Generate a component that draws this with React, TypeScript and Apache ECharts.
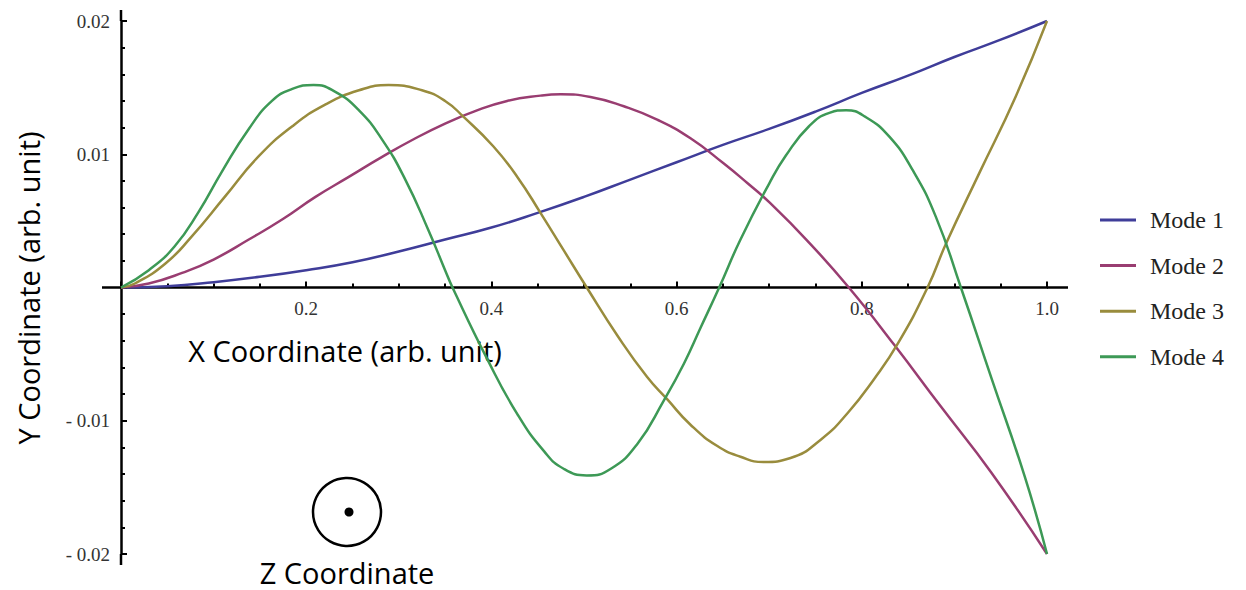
import React, { useEffect, useRef } from "react";
import * as echarts from "echarts";

// Beam mode shapes: [x, y] pairs along the beam (arb. units)
const mode1: [number, number][] = [
  [0, 0], [0.05, 0.0001], [0.1, 0.0004], [0.15, 0.0008], [0.2, 0.0013],
  [0.25, 0.0019], [0.3, 0.0027], [0.35, 0.0036], [0.4, 0.0045], [0.45, 0.0056],
  [0.5, 0.0068], [0.55, 0.0081], [0.6, 0.0094], [0.65, 0.0107], [0.7, 0.0119],
  [0.75, 0.0132], [0.8, 0.0146], [0.85, 0.0159], [0.9, 0.0173], [0.95, 0.0186],
  [1.0, 0.02],
];

const mode2: [number, number][] = [
  [0, 0], [0.03, 0.0003], [0.066, 0.0011], [0.1, 0.0021], [0.138, 0.0036],
  [0.174, 0.0051], [0.21, 0.0068], [0.246, 0.0083], [0.282, 0.0098], [0.318, 0.0112],
  [0.35, 0.0123], [0.381, 0.0132], [0.417, 0.014], [0.453, 0.0144], [0.475, 0.0145],
  [0.507, 0.0143], [0.543, 0.0136], [0.579, 0.0126], [0.615, 0.0112], [0.651, 0.0093],
  [0.677, 0.0078], [0.7, 0.0064], [0.74, 0.0036], [0.786, 0], [0.835, -0.0043],
  [0.885, -0.0089], [0.94, -0.0139], [1.0, -0.02],
];

const mode3: [number, number][] = [
  [0, 0], [0.015, 0.0003], [0.048, 0.0018], [0.076, 0.0038], [0.112, 0.0068],
  [0.148, 0.0098], [0.185, 0.0121], [0.22, 0.0137], [0.257, 0.0148], [0.289, 0.0152],
  [0.325, 0.0148], [0.35, 0.014], [0.37, 0.0128], [0.402, 0.0106], [0.428, 0.0083],
  [0.453, 0.0056], [0.478, 0.0028], [0.503, 0], [0.536, -0.0036], [0.568, -0.0067],
  [0.59, -0.0084], [0.615, -0.0103], [0.644, -0.0119], [0.669, -0.0127], [0.694, -0.0131],
  [0.723, -0.0128], [0.756, -0.0114], [0.785, -0.0094], [0.813, -0.0069], [0.839, -0.0042],
  [0.871, 0], [0.891, 0.0033], [0.927, 0.0086], [0.966, 0.0143], [1.0, 0.02],
];

const mode4: [number, number][] = [
  [0, 0], [0.03, 0.0013], [0.058, 0.0031], [0.084, 0.0057], [0.109, 0.0087],
  [0.138, 0.0119], [0.163, 0.014], [0.185, 0.0149], [0.208, 0.0152], [0.231, 0.0147],
  [0.257, 0.0133], [0.282, 0.0111], [0.307, 0.0081], [0.332, 0.0043], [0.35, 0.0013],
  [0.358, 0], [0.395, -0.0053], [0.428, -0.0095], [0.457, -0.0123], [0.478, -0.0136],
  [0.503, -0.0141], [0.529, -0.0136], [0.558, -0.0117], [0.586, -0.0085], [0.608, -0.0057],
  [0.626, -0.003], [0.646, 0], [0.669, 0.0036], [0.7, 0.0078], [0.718, 0.0099],
  [0.743, 0.0121], [0.765, 0.0131], [0.783, 0.0133], [0.804, 0.0128], [0.83, 0.0113],
  [0.855, 0.0088], [0.88, 0.0053], [0.907, 0], [0.94, -0.0068], [0.976, -0.0142],
  [1.0, -0.02],
];

const seriesNames = ["Mode 1", "Mode 2", "Mode 3", "Mode 4"];
const seriesColors = ["#3f3d99", "#993d71", "#998c3d", "#3d9956"];
const seriesData = [mode1, mode2, mode3, mode4];

const xTitle = "X Coordinate (arb. unit)";
const yTitle = "Y Coordinate (arb. unit)";
const zTitle = "Z Coordinate";

const GRID = { left: 121, right: 199, top: 21, bottom: 36 };
const CHART_H = 590;

export default function App() {
  const ref = useRef<HTMLDivElement>(null);

  useEffect(() => {
    if (!ref.current) return;
    const chart = echarts.init(ref.current, null, { renderer: "svg" });
    const axisColor = "#000";
    const sans = "'Open Sans', 'Liberation Sans', sans-serif";
    const serif = "'Liberation Serif', 'DejaVu Serif', serif";

    // The x axis sits on y = 0, which is the middle of the symmetric y range
    const gridH = CHART_H - GRID.top - GRID.bottom;
    const xAxisOffset = -gridH / 2;

    chart.setOption({
      animation: false,
      backgroundColor: "#fff",
      grid: GRID,
      legend: {
        orient: "vertical",
        left: 1095,
        top: 203,
        icon: "rect",
        itemWidth: 36,
        itemHeight: 3,
        itemGap: 21.6,
        data: seriesNames,
        textStyle: { fontFamily: serif, fontSize: 24, color: "#222", padding: [0, 0, 0, 9] },
      },
      xAxis: {
        type: "value",
        min: 0,
        max: 1,
        interval: 0.2,
        offset: xAxisOffset,
        axisLine: { onZero: false, lineStyle: { color: axisColor, width: 2.5 } },
        axisTick: { show: true, inside: true, length: 6, lineStyle: { color: axisColor, width: 2 } },
        minorTick: { show: true, splitNumber: 4, length: 4, lineStyle: { color: axisColor, width: 2 } },
        splitLine: { show: false },
        axisLabel: {
          margin: 11,
          fontFamily: serif,
          fontSize: 19,
          color: "#333",
          formatter: (v: number) => (Math.abs(v) < 1e-9 ? "" : v.toFixed(1)),
        },
      },
      yAxis: {
        type: "value",
        min: -0.02,
        max: 0.02,
        interval: 0.01,
        axisLine: { onZero: false, lineStyle: { color: axisColor, width: 2.5 } },
        axisTick: { show: true, inside: true, length: 6, lineStyle: { color: axisColor, width: 2 } },
        minorTick: { show: true, splitNumber: 5, length: 4, lineStyle: { color: axisColor, width: 2 } },
        splitLine: { show: false },
        axisLabel: {
          margin: 11,
          fontFamily: serif,
          fontSize: 19,
          color: "#333",
          formatter: (v: number) => {
            if (Math.abs(v) < 1e-9) return "";
            return v < 0 ? "- " + Math.abs(v).toFixed(2) : v.toFixed(2);
          },
        },
      },
      series: seriesData.map((d, i) => ({
        name: seriesNames[i],
        type: "line",
        data: d,
        smooth: 0.5,
        symbol: "none",
        color: seriesColors[i],
        lineStyle: { width: 2.5, color: seriesColors[i] },
      })),
    });

    // Axis line extensions past the plotted range, plus titles and the Z marker
    const origin = chart.convertToPixel({ xAxisIndex: 0, yAxisIndex: 0 }, [0, 0]) as number[];
    const xEnd = chart.convertToPixel({ xAxisIndex: 0, yAxisIndex: 0 }, [1, 0]) as number[];
    const yTop = chart.convertToPixel({ xAxisIndex: 0, yAxisIndex: 0 }, [0, 0.02]) as number[];
    const yBot = chart.convertToPixel({ xAxisIndex: 0, yAxisIndex: 0 }, [0, -0.02]) as number[];
    const lineStyle = { stroke: axisColor, lineWidth: 2.5 };

    chart.setOption({
      graphic: [
        { type: "line", shape: { x1: origin[0] - 19, y1: origin[1], x2: origin[0], y2: origin[1] }, style: lineStyle },
        { type: "line", shape: { x1: xEnd[0], y1: xEnd[1], x2: xEnd[0] + 21, y2: xEnd[1] }, style: lineStyle },
        { type: "line", shape: { x1: yTop[0], y1: yTop[1] - 11, x2: yTop[0], y2: yTop[1] }, style: lineStyle },
        { type: "line", shape: { x1: yBot[0], y1: yBot[1], x2: yBot[0], y2: yBot[1] + 11 }, style: lineStyle },
        {
          type: "text",
          x: 345,
          y: 350,
          style: { text: xTitle, fontFamily: sans, fontSize: 29, fill: "#000", align: "center", verticalAlign: "middle" },
        },
        {
          type: "text",
          x: 28,
          y: 288,
          rotation: Math.PI / 2,
          style: { text: yTitle, fontFamily: sans, fontSize: 29, fill: "#000", align: "center", verticalAlign: "middle" },
        },
        { type: "circle", shape: { cx: 347, cy: 512, r: 34 }, style: { fill: "none", stroke: "#000", lineWidth: 2.5 } },
        { type: "circle", shape: { cx: 349, cy: 512, r: 4.5 }, style: { fill: "#000" } },
        {
          type: "text",
          x: 347,
          y: 572,
          style: { text: zTitle, fontFamily: sans, fontSize: 29, lineHeight: 29, fill: "#000", align: "center", verticalAlign: "middle" },
        },
      ],
    });

    return () => chart.dispose();
  }, []);

  return (
    <div
      ref={ref}
      style={{ position: "fixed", left: 0, top: 0, width: 1246, height: CHART_H }}
    />
  );
}
